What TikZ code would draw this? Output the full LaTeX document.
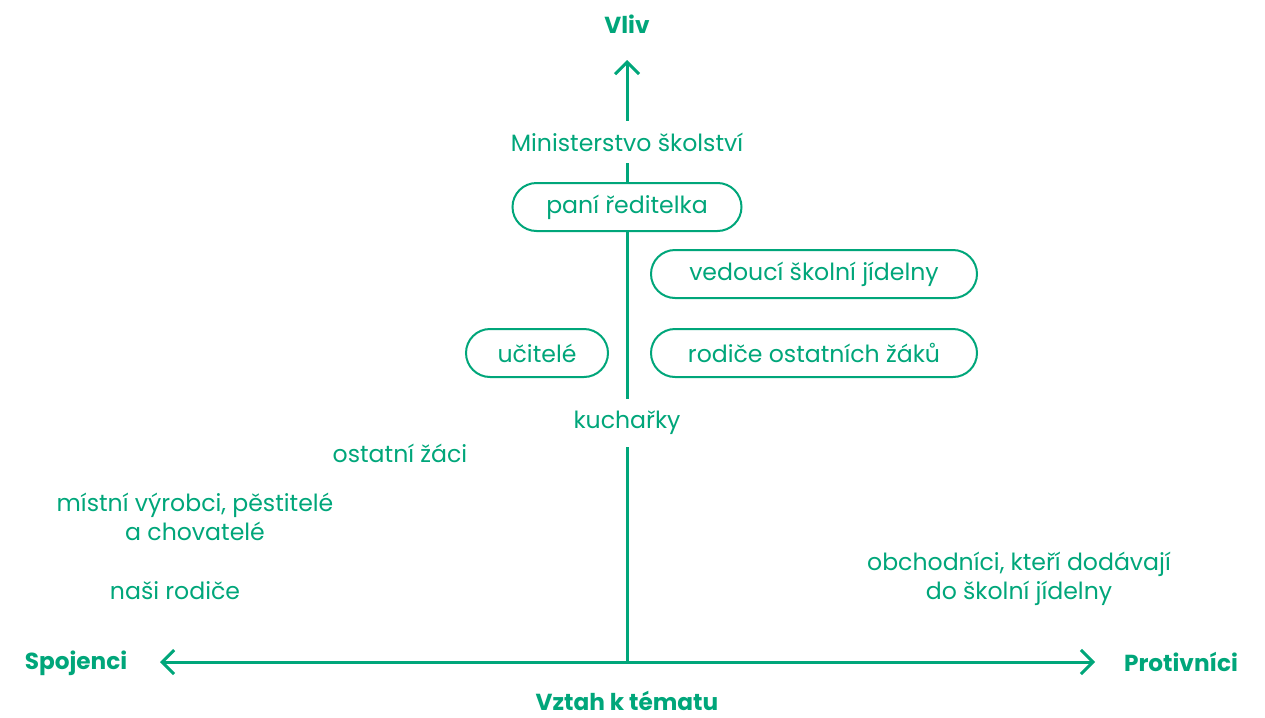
\documentclass[tikz,border=0pt]{standalone}
\usepackage{fontspec}
\setmainfont{Poppins}
\usepackage{xcolor}
\usepackage{tikz}
\usetikzlibrary{arrows.meta,positioning}
\definecolor{vgreen}{RGB}{0,166,122}
\tikzset{%
	barb/.tip      = {Straight Barb[length=6pt,width=12pt,line width=1.5pt]},
	axis/.style    = {draw=vgreen, line width=1.5pt, -barb},
	axislab/.style = {text=vgreen, font=\fontsize{11.6}{13}\selectfont\bfseries},
	actor/.style   = {text=vgreen, font=\fontsize{11.8}{14.5}\selectfont, align=center},
	gapped/.style  = {actor, fill=white, inner ysep=6pt, inner xsep=4pt},
	pill/.style    = {actor, draw=vgreen, line width=1pt, fill=white, rounded corners=12pt, minimum height=24pt},
}
\begin{document}
\begin{tikzpicture}[x=0.5pt,y=-0.5pt]
	\useasboundingbox (0,0) rectangle (1265,718);
	\coordinate (o) at (627,662);
	\coordinate (top) at (627,60);
	\coordinate (left) at (160,662);
	\coordinate (right) at (1095,662);
	\draw[axis] (o) -- (top);  % Vliv axis
	\draw[axis,barb-barb] (left) -- (right);  % Vztah axis
	\node[axislab] (vliv) at (627,24) {Vliv};
	\node[axislab, anchor=base, inner sep=0pt, text depth=0pt] (vztah) at (627,710) {Vztah k tématu};
	\node[axislab] (spojenci) at (76,663) {Spojenci};
	\node[axislab] (protivnici) at (1181,662) {Protivníci};
	
	\node[gapped] (ministerstvo) at (627,142) {Ministerstvo školství};
	\node[pill, minimum width=114.5pt] (reditelka) at (627,207) {paní ředitelka};
	\node[pill, minimum width=163pt] (vedouci) at (814,274) {vedoucí školní jídelny};
	\node[pill, minimum width=71pt] (ucitele) at (537,353) {učitelé};
	\node[pill, minimum width=163pt] (rodiceost) at (814,353) {rodiče ostatních žáků};
	\node[gapped] (kucharky) at (627,423) {kuchařky};
	
	\node[actor] (zaci) at (400,453) {ostatní žáci};
	\node[actor] (vyrobci) at (195,517) {místní výrobci, pěstitelé\\a chovatelé};
	\node[actor] (rodice) at (175,591) {naši rodiče};
	\node[actor] (obchodnici) at (1019,579) {obchodníci, kteří dodávají\\do školní jídelny};
\end{tikzpicture}
\end{document}
